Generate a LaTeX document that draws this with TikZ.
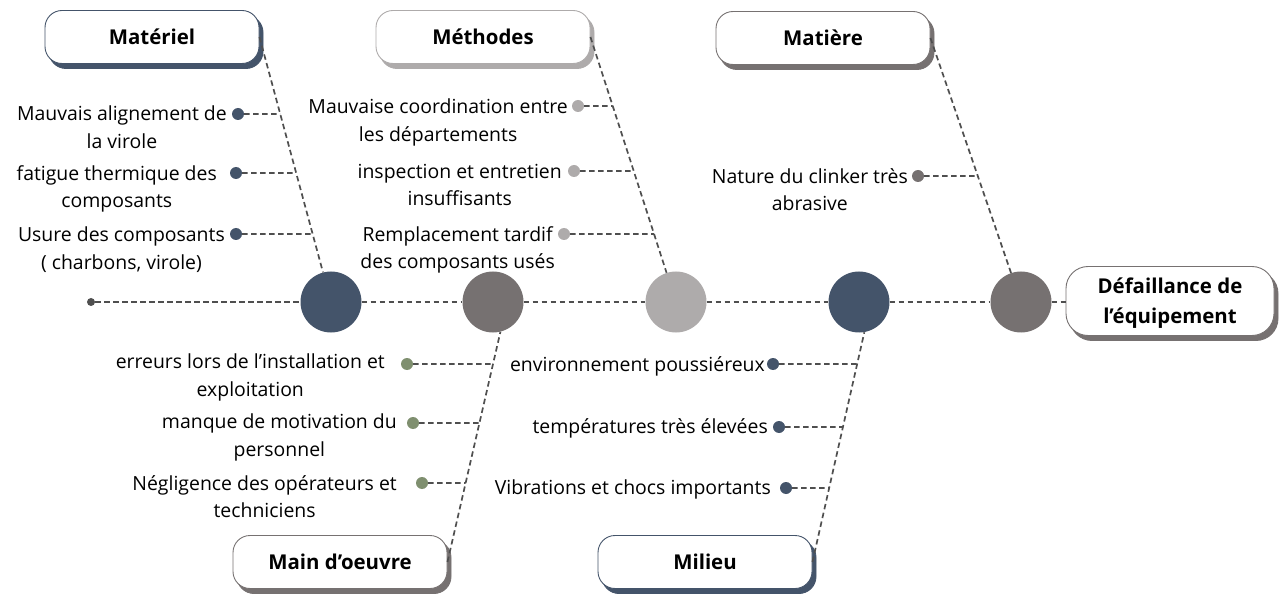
\documentclass[tikz,border=0pt]{standalone}
\usepackage{fontspec}
\setmainfont{Open Sans}
\usetikzlibrary{intersections}

\definecolor{navy}{HTML}{44546A}
\definecolor{stone}{HTML}{767171}
\definecolor{silver}{HTML}{AEABAB}
\definecolor{sage}{HTML}{7F8F6F}
\definecolor{ink}{HTML}{4F4F4F}

% one cause: coloured dot, its text, and a dashed tie to the branch
\newcommand\causeitem[6]{%
  \node[dotmark=#2] (#1) at #3 {};
  \node[cause] (#1t) at #5 {#6};
  \path[name path=#1h] (#1) -- ++(250,0);
  \path[name intersections={of=#4 and #1h, by=#1j}];
  \draw[dashline] (#1) -- (#1j);
}

\begin{document}
\begin{tikzpicture}[x=1bp, y=-1bp,
  catbox/.style={draw=#1, fill=white, line width=0.9bp, rounded corners=17bp,
    minimum width=214bp, minimum height=53bp, inner sep=0pt,
    font=\fontsize{20.5}{24}\selectfont\bfseries,
    preaction={fill=#1, draw=#1, transform canvas={xshift=4bp, yshift=-5bp}}},
  hub/.style={circle, minimum size=61bp, inner sep=0pt, fill=#1},
  dotmark/.style={circle, minimum size=12bp, inner sep=0pt, fill=#1},
  cause/.style={align=center, font=\fontsize{19.5}{27.5}\selectfont,
    inner sep=0pt, anchor=north east},
  dashline/.style={draw=ink, line width=1.7bp, dash pattern=on 5.5bp off 3.5bp}]

\useasboundingbox (0,0) rectangle (1283,594);

% category boxes
\node[catbox=navy]  (matb)  at (152,37)  {Matériel};
\node[catbox=silver](methb) at (483,37)  {Méthodes};
\node[catbox=stone] (matib) at (823,38)  {Matière};
\node[catbox=stone] (mainb) at (340,562) {Main d’oeuvre};
\node[catbox=navy]  (milb)  at (705,562) {Milieu};

% effect box
\node[catbox=stone, minimum width=208bp, minimum height=69bp, rounded corners=22bp,
      align=center, font=\fontsize{20.5}{30}\selectfont\bfseries]
  (effect) at (1170,301) {Défaillance de\\\raisebox{0pt}[\height][0pt]{l’équipement}};

% hubs along the spine
\node[hub=navy]   (c1) at (331,302) {};
\node[hub=stone]  (c2) at (493,302) {};
\node[hub=silver] (c3) at (676,302) {};
\node[hub=navy]   (c4) at (859,302) {};
\node[hub=stone]  (c5) at (1021,302) {};
\node[dotmark=ink, minimum size=8bp] (tail) at (91,302) {};

% spine
\draw[dashline] (tail) -- (c1);
\draw[dashline] (c1) -- (c2);
\draw[dashline] (c2) -- (c3);
\draw[dashline] (c3) -- (c4);
\draw[dashline] (c4) -- (c5);
\draw[dashline] (c5) -- (c5 -| effect.west);

% branches
\draw[dashline, name path=bmat]  (matb.east)  -- (c1);
\draw[dashline, name path=bmeth] (methb.east) -- (c3);
\draw[dashline, name path=bmati] (matib.east) -- (c5);
\draw[dashline, name path=bmain] (mainb.east) -- (c2.-76);
\draw[dashline, name path=bmil]  (milb.east)  -- (c4.-80);

% Matériel
\causeitem{ma}{navy}{(238,114)}{bmat}{(227,106)}{Mauvais alignement de\\la virole}
\causeitem{mb}{navy}{(236,173)}{bmat}{(217,165)}{fatigue thermique des\\composants}
\causeitem{mc}{navy}{(236,234)}{bmat}{(225,227)}{Usure des composants\\( charbons, virole)}

% Méthodes
\causeitem{ta}{silver}{(578,106)}{bmeth}{(568,99)}{Mauvaise coordination entre\\les départements}
\causeitem{tb}{silver}{(574,171)}{bmeth}{(562,164)}{inspection et entretien\\insuffisants}
\causeitem{tc}{silver}{(564,234)}{bmeth}{(555,226)}{Remplacement tardif\\des composants usés}

% Matière
\causeitem{ia}{stone}{(918,176)}{bmati}{(908,168)}{Nature du clinker très\\abrasive}

% Main d'oeuvre
\causeitem{oa}{sage}{(407,364)}{bmain}{(385,354)}{erreurs lors de l’installation et\\exploitation}
\causeitem{ob}{sage}{(413,423)}{bmain}{(397,414)}{manque de motivation du\\personnel}
\causeitem{oc}{sage}{(422,483)}{bmain}{(397,475)}{Négligence des opérateurs et\\techniciens}

% Milieu
\causeitem{la}{navy}{(773,364)}{bmil}{(765,356)}{environnement poussiéreux}
\causeitem{lb}{navy}{(779,427)}{bmil}{(768,418)}{températures très élevées}
\causeitem{lc}{navy}{(786,488)}{bmil}{(771,480)}{Vibrations et chocs importants}

\end{tikzpicture}
\end{document}
